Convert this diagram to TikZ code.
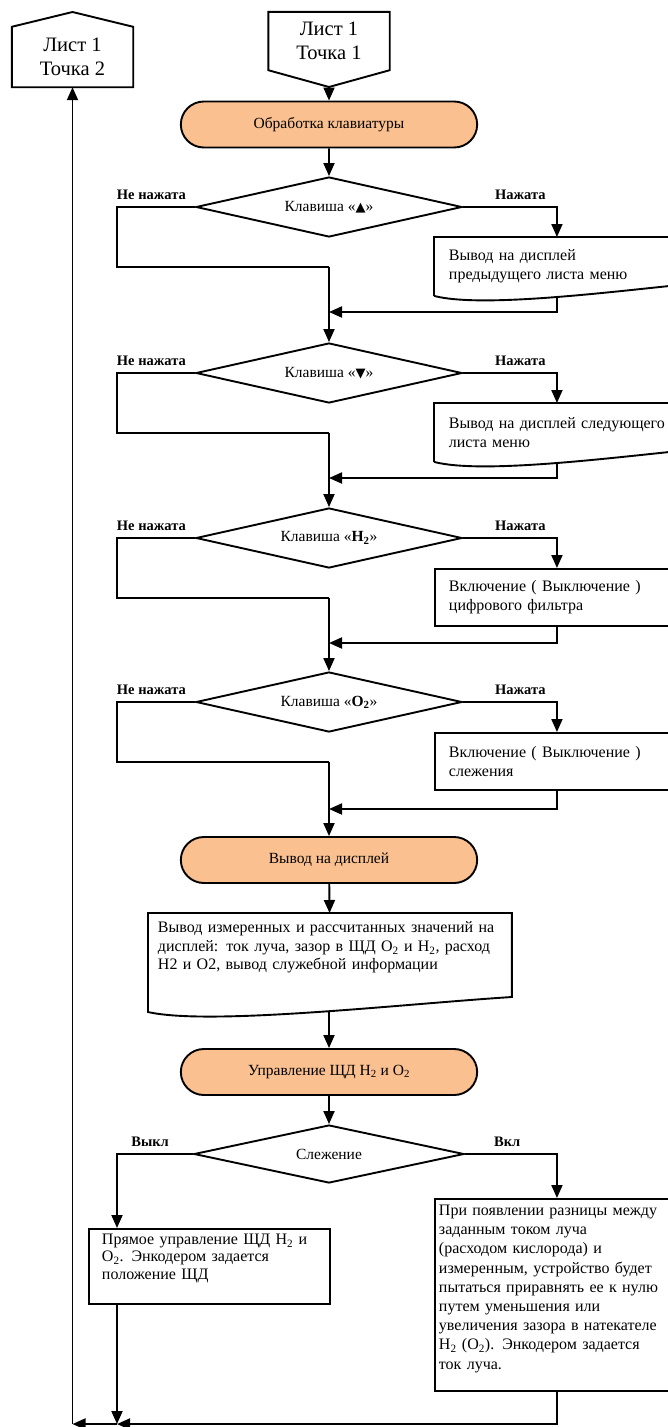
\documentclass[tikz,border=0pt]{standalone}
\usepackage{fontspec}
\setmainfont{Liberation Serif}
\newfontfamily\glyphfont{DejaVu Sans}
\usetikzlibrary{positioning,shapes.geometric,shapes.misc,arrows.meta}
\definecolor{termfill}{RGB}{250,192,144}

\begin{document}
\begin{tikzpicture}[
  x=1pt, y=-1pt,
  line/.style={line width=1.9pt},
  arrow/.style={line, -{Triangle[length=13pt,width=11pt]}},
  term/.style={rounded rectangle, draw, line width=1.9pt, fill=termfill,
               minimum width=303pt, minimum height=46pt,
               font=\fontsize{15.5}{19}\selectfont},
  decision/.style={diamond, draw, line width=1.9pt, inner sep=0pt, aspect=4.5,
                   minimum width=266pt, minimum height=60pt,
                   font=\fontsize{15.5}{19}\selectfont},
  sheet/.style={minimum width=121pt, align=center, inner sep=0pt,
                font=\fontsize{20.5}{24}\selectfont},
  action/.style={rectangle, line width=1.9pt, anchor=north west, align=left,
                 text width=216pt, inner xsep=14pt, minimum height=57pt,
                 font=\fontsize{16}{19}\selectfont},
  lbl/.style={font=\bfseries\fontsize{14.5}{17}\selectfont, inner sep=1pt}
]
\useasboundingbox (0,0) rectangle (668,1427);

% off-page connectors
\node[sheet, minimum height=60pt] (sheet2) at (72.5,57) {Лист 1\\Точка 2};
\coordinate (roof) at (72.5,12);
\draw[line] (sheet2.south west) -- (sheet2.north west) -- (roof) -- (sheet2.north east) -- (sheet2.south east) -- cycle;

\node[sheet, minimum height=58pt] (sheet1) at (329,41) {Лист 1\\Точка 1};
\coordinate (tip) at (329,87);
\draw[line] (sheet1.north west) -- (sheet1.north east) -- (sheet1.south east) -- (tip) -- (sheet1.south west) -- cycle;

\node[term] (kbd) at (329,124.5) {Обработка клавиатуры};
\draw[arrow] (tip) -- (kbd);

\coordinate (lx) at (117,0);

% key "up"
\node[decision] (up) at (329,207) {Клавиша «{\glyphfont\fontsize{13}{13}\selectfont ▲}»};
\node[lbl, above left=6pt and 8pt of up.west] (upno) {Не нажата};
\node[lbl, above right=6pt and 31pt of up.east] (upyes) {Нажата};
\node[action] (prev) at (434,237) {Вывод на дисплей\\предыдущего листа меню};
\draw[line] (prev.south west) -- (prev.north west) -- (prev.north east) -- ([yshift=11pt]prev.south east) .. controls +(-78,8) and +(46,12) .. (prev.south west);
\coordinate (j1) at (329,267);
\coordinate (m1) at (329,312);
\draw[arrow] (kbd) -- (up);
\draw[arrow] (up.east) -| (prev.north);
\draw[line] (up.west) -| (lx |- j1) -- (j1);
\draw[arrow] (prev.south) |- (m1);

% key "down"
\node[decision] (down) at (329,373) {Клавиша «{\glyphfont\fontsize{13}{13}\selectfont ▼}»};
\node[lbl, above left=6pt and 8pt of down.west] (downno) {Не нажата};
\node[lbl, above right=6pt and 31pt of down.east] (downyes) {Нажата};
\node[action] (next) at (434,403) {Вывод на дисплей следующего\\листа меню};
\draw[line] (next.south west) -- (next.north west) -- (next.north east) -- ([yshift=11pt]next.south east) .. controls +(-78,8) and +(46,12) .. (next.south west);
\coordinate (j2) at (329,433);
\coordinate (m2) at (329,478);
\draw[arrow] (j1) -- (down);
\draw[arrow] (down.east) -| (next.north);
\draw[line] (down.west) -| (lx |- j2) -- (j2);
\draw[arrow] (next.south) |- (m2);

% key H2
\node[decision] (hkey) at (329,538) {Клавиша «\textbf{H\textsubscript{2}}»};
\node[lbl, above left=6pt and 8pt of hkey.west] (hno) {Не нажата};
\node[lbl, above right=6pt and 31pt of hkey.east] (hyes) {Нажата};
\node[action, draw] (filter) at (434,568) {Включение ( Выключение )\\цифрового фильтра};
\coordinate (j3) at (329,598);
\coordinate (m3) at (329,643);
\draw[arrow] (j2) -- (hkey);
\draw[arrow] (hkey.east) -| (filter.north);
\draw[line] (hkey.west) -| (lx |- j3) -- (j3);
\draw[arrow] (filter.south) |- (m3);

% key O2
\node[decision] (okey) at (329,702) {Клавиша «\textbf{O\textsubscript{2}}»};
\node[lbl, above left=6pt and 8pt of okey.west] (ono) {Не нажата};
\node[lbl, above right=6pt and 31pt of okey.east] (oyes) {Нажата};
\node[action, draw] (track) at (434,732) {Включение ( Выключение )\\слежения};
\coordinate (j4) at (329,762);
\coordinate (m4) at (329,809);
\draw[arrow] (j3) -- (okey);
\draw[arrow] (okey.east) -| (track.north);
\draw[line] (okey.west) -| (lx |- j4) -- (j4);
\draw[arrow] (track.south) |- (m4);

% display
\node[term] (disp) at (329,860) {Вывод на дисплей};
\draw[arrow] (j4) -- (disp);
\node[action, text width=344pt, inner xsep=9pt, inner ysep=8pt, font=\fontsize{16}{18.5}\selectfont] (vals) at (148,913)
  {Вывод измеренных и рассчитанных значений на\\дисплей: ток луча, зазор в ЩД O\textsubscript{2} и H\textsubscript{2}, расход\\H2 и O2, вывод служебной информации};
\draw[line] (vals.north west) -- (vals.north east) -- ([yshift=-84pt]vals.north east) .. controls +(-110,7) and +(62,14) .. ([yshift=-99pt]vals.north west) -- cycle;
\coordinate (valsout) at (329,1011);
\draw[arrow] (disp) -- (vals);

% valve control
\node[term] (ctrl) at (329,1072) {Управление ЩД H\textsubscript{2} и O\textsubscript{2}};
\draw[arrow] (valsout) -- (ctrl);
\node[decision, minimum width=270pt, minimum height=58pt] (follow) at (329,1154) {Слежение};
\node[lbl, above left=6pt and 23pt of follow.west] (off) {Выкл};
\node[lbl, above right=6pt and 28pt of follow.east] (on) {Вкл};
\draw[arrow] (ctrl) -- (follow);

\node[action, draw, text width=215pt, inner xsep=13pt, inner ysep=5pt, minimum height=0pt,
      text depth=55pt, font=\fontsize{16}{17.5}\selectfont] (manual) at (88,1228)
  {Прямое управление ЩД H\textsubscript{2} и\\O\textsubscript{2}. Энкодером задается\\положение ЩД};
\node[action, draw, text width=236pt, inner xsep=4pt, inner ysep=6pt, minimum height=0pt,
      text depth=170pt, font=\fontsize{16}{19.2}\selectfont] (auto) at (434,1198)
  {При появлении разницы между\\заданным током луча\\(расходом кислорода) и\\измеренным, устройство будет\\пытаться приравнять ее к нулю\\путем уменьшения или\\увеличения зазора в натекателе\\H\textsubscript{2} (O\textsubscript{2}). Энкодером задается\\ток луча.};
\draw[arrow] (follow.west) -| (lx |- manual.north);
\draw[arrow] (follow.east) -| (auto.north);

\coordinate (bot) at (117,1424);
\draw[arrow] (lx |- manual.south) -- (bot);
\draw[arrow] (auto.south) |- (bot);
\draw[arrow] (bot) -- (sheet2 |- bot);
\draw[arrow] (sheet2 |- bot) -- (sheet2);
\end{tikzpicture}
\end{document}
